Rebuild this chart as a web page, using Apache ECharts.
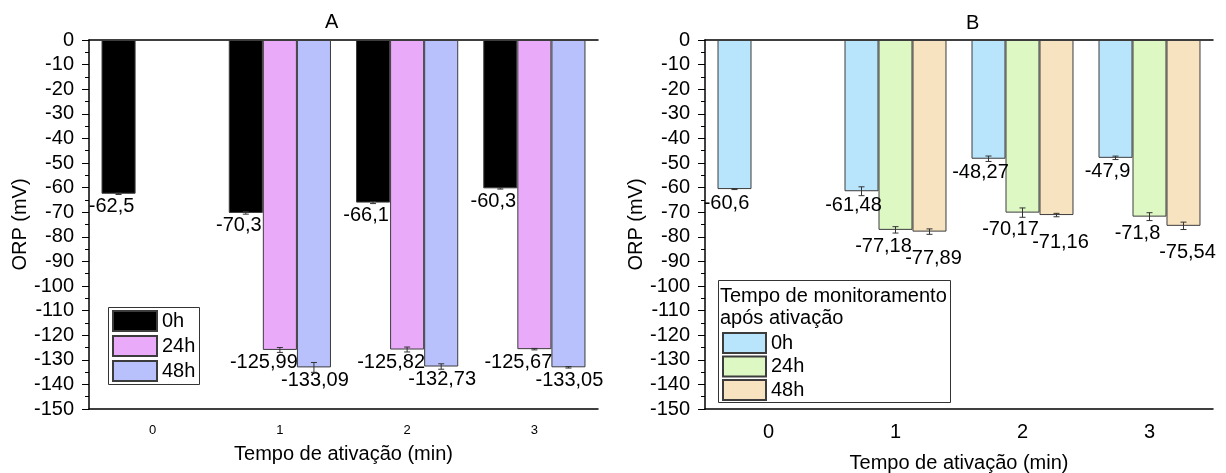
<!DOCTYPE html>
<html>
<head>
<meta charset="utf-8">
<script src="https://cdn.jsdelivr.net/npm/echarts@6/dist/echarts.min.js"></script>
<style>
  html, body { margin: 0; padding: 0; background: #fff; }
  #chart { width: 1226px; height: 473px; }
</style>
</head>
<body>
<div id="chart"></div>
<script>
// ---------- data ----------
var categories = ['0', '1', '2', '3'];
var seriesNames = ['0h', '24h', '48h'];
var yTicks = { min: -150, max: 0, interval: 10 };

// Panel A
var A_0h  = [-62.5, -70.3, -66.1, -60.3];
var A_24h = [null, -125.99, -125.82, -125.67];
var A_48h = [null, -133.09, -132.73, -133.05];
var A_0h_err  = [0.3, 0.5, 0.4, 0.3];
var A_24h_err = [null, 1.0, 1.0, 0.3];
var A_48h_err = [null, 2.0, 1.1, 0.3];

// Panel B
var B_0h  = [-60.6, -61.48, -48.27, -47.9];
var B_24h = [null, -77.18, -70.17, -71.8];
var B_48h = [null, -77.89, -71.16, -75.54];
var B_0h_err  = [0.2, 1.8, 1.1, 0.7];
var B_24h_err = [null, 1.3, 1.9, 1.6];
var B_48h_err = [null, 1.1, 0.7, 1.5];

var titleA = 'A', titleB = 'B';
var xTitle = 'Tempo de ativação (min)';
var yTitle = 'ORP (mV)';
var legendTitleB = ['Tempo de monitoramento', 'após ativação'];

// ---------- styles ----------
var FONT = '"Liberation Sans", Arial, sans-serif';
var colorsA = ['#000000', '#EAAAFA', '#B9C1FC'];
var colorsB = ['#B8E4FC', '#DEF8C4', '#F7E3BF'];
var BAR_FRAC = 0.2677;
var labelOffA = [[-7, 3], [-16, 3], [1, 3]];
var labelOffB = [[-8, 4], [-12, 7], [4, 17]];

function fmt(v) { return String(v).replace('.', ','); }

function barSeries(prefix, idx, values, color, xIdx, yIdx, off) {
  return {
    name: prefix + seriesNames[idx],
    type: 'bar',
    xAxisIndex: xIdx, yAxisIndex: yIdx,
    data: values,
    barWidth: (BAR_FRAC * 100) + '%',
    barGap: '0%',
    itemStyle: { color: color, borderColor: '#3c3c3c', borderWidth: 1 },
    label: {
      show: true, position: 'bottom', distance: off[1],
      offset: [off[0], 0],
      fontFamily: FONT, fontSize: 20, color: '#000',
      formatter: function (p) { return p.value == null ? '' : fmt(p.value); }
    },
    emphasis: { disabled: true },
    animation: false,
    z: 2
  };
}

function errSeries(values, errs, shift, xIdx, yIdx) {
  var d = [];
  for (var i = 0; i < values.length; i++) {
    if (values[i] != null) d.push([i, values[i], errs[i]]);
  }
  return {
    type: 'custom',
    xAxisIndex: xIdx, yAxisIndex: yIdx,
    data: d,
    encode: { x: 0, y: 1 },
    z: 5,
    silent: true,
    animation: false,
    renderItem: function (params, api) {
      var c = api.value(0), v = api.value(1), e = api.value(2);
      var bw = api.size([1, 0])[0] * BAR_FRAC;
      var x = api.coord([c, v])[0] + shift * bw;
      var y1 = api.coord([c, v + e])[1];
      var y2 = api.coord([c, v - e])[1];
      var cap = 3;
      var st = { stroke: '#333', lineWidth: 1 };
      return {
        type: 'group',
        children: [
          { type: 'line', shape: { x1: x, y1: y1, x2: x, y2: y2 }, style: st },
          { type: 'line', shape: { x1: x - cap, y1: y1, x2: x + cap, y2: y1 }, style: st },
          { type: 'line', shape: { x1: x - cap, y1: y2, x2: x + cap, y2: y2 }, style: st }
        ]
      };
    }
  };
}

function xAxes(gridIndex, labelSize, nameGap) {
  return [
    {
      gridIndex: gridIndex, type: 'category', data: categories, position: 'bottom',
      axisLine: { onZero: false, lineStyle: { color: '#000', width: 1.5 } },
      axisTick: { alignWithLabel: true, length: 6, lineStyle: { color: '#000' } },
      axisLabel: { fontFamily: FONT, fontSize: labelSize, color: '#000', margin: labelSize < 16 ? 15 : 13 },
      name: xTitle, nameLocation: 'middle', nameGap: nameGap,
      nameTextStyle: { fontFamily: FONT, fontSize: 20, color: '#000' }
    },
    {
      gridIndex: gridIndex, type: 'category', data: categories, position: 'bottom',
      axisLine: { show: false, onZero: false },
      axisTick: { length: 3, lineStyle: { color: '#000' } },
      axisLabel: { show: false }
    },
    {
      gridIndex: gridIndex, type: 'category', data: categories, position: 'top',
      axisLine: { onZero: false, lineStyle: { color: '#000', width: 1.5 } },
      axisTick: { show: false }, axisLabel: { show: false }
    }
  ];
}

function yAxis(gridIndex) {
  return {
    gridIndex: gridIndex, type: 'value',
    min: yTicks.min, max: yTicks.max, interval: yTicks.interval,
    axisLine: { show: true, lineStyle: { color: '#000', width: 1.5 } },
    axisTick: { show: true, length: 7, lineStyle: { color: '#000' } },
    minorTick: { show: true, splitNumber: 2, length: 4, lineStyle: { color: '#000' } },
    splitLine: { show: false },
    axisLabel: { fontFamily: FONT, fontSize: 20, color: '#000', margin: 15 },
    name: yTitle, nameLocation: 'middle', nameGap: 57, nameRotate: 90,
    nameTextStyle: { fontFamily: FONT, fontSize: 20, color: '#000' }
  };
}

var option = {
  backgroundColor: '#fff',
  animation: false,
  grid: [
    { left: 89, top: 40, width: 509, height: 369, outerBoundsMode: 'none', containLabel: false },
    { left: 705, top: 40, width: 508, height: 369, outerBoundsMode: 'none', containLabel: false }
  ],
  xAxis: [].concat(xAxes(0, 13, 35), xAxes(1, 20, 44)),
  yAxis: [yAxis(0), yAxis(1)],
  legend: [
    {
      orient: 'vertical', left: 112, top: 310, padding: 0,
      itemWidth: 44, itemHeight: 20, itemGap: 3,
      icon: 'rect',
      data: ['A-0h', 'A-24h', 'A-48h'],
      formatter: function (n) { return n.slice(2); },
      textStyle: { fontFamily: FONT, fontSize: 20, color: '#000', lineHeight: 20 },
      selectedMode: false
    },
    {
      orient: 'vertical', left: 722, top: 332, padding: 0,
      itemWidth: 43, itemHeight: 20, itemGap: 1.5,
      icon: 'rect',
      data: ['B-0h', 'B-24h', 'B-48h'],
      formatter: function (n) { return n.slice(2); },
      textStyle: { fontFamily: FONT, fontSize: 20, color: '#000', lineHeight: 20 },
      selectedMode: false
    }
  ],
  graphic: [
    { type: 'text', left: 325, top: 12, style: { text: titleA, font: '20px ' + FONT, fill: '#000' } },
    { type: 'text', left: 966, top: 13, style: { text: titleB, font: '20px ' + FONT, fill: '#000' } },
    { type: 'rect', shape: { x: 108.5, y: 307.5, width: 91, height: 77 },
      style: { fill: 'none', stroke: '#333', lineWidth: 1 }, z: 10 },
    { type: 'rect', shape: { x: 718.5, y: 280.5, width: 232, height: 122 },
      style: { fill: 'none', stroke: '#333', lineWidth: 1 }, z: 10 },
    { type: 'text', left: 720, top: 286, style: { text: legendTitleB[0], font: '20px ' + FONT, fill: '#000' } },
    { type: 'text', left: 720, top: 308, style: { text: legendTitleB[1], font: '20px ' + FONT, fill: '#000' } }
  ],
  series: [
    barSeries('A-', 0, A_0h,  colorsA[0], 0, 0, labelOffA[0]),
    barSeries('A-', 1, A_24h, colorsA[1], 0, 0, labelOffA[1]),
    barSeries('A-', 2, A_48h, colorsA[2], 0, 0, labelOffA[2]),
    errSeries(A_0h,  A_0h_err,  -1, 0, 0),
    errSeries(A_24h, A_24h_err,  0, 0, 0),
    errSeries(A_48h, A_48h_err,  1, 0, 0),
    barSeries('B-', 0, B_0h,  colorsB[0], 3, 1, labelOffB[0]),
    barSeries('B-', 1, B_24h, colorsB[1], 3, 1, labelOffB[1]),
    barSeries('B-', 2, B_48h, colorsB[2], 3, 1, labelOffB[2]),
    errSeries(B_0h,  B_0h_err,  -1, 3, 1),
    errSeries(B_24h, B_24h_err,  0, 3, 1),
    errSeries(B_48h, B_48h_err,  1, 3, 1)
  ]
};

var chart = echarts.init(document.getElementById('chart'), null, { renderer: 'canvas' });
chart.setOption(option);
</script>
</body>
</html>
